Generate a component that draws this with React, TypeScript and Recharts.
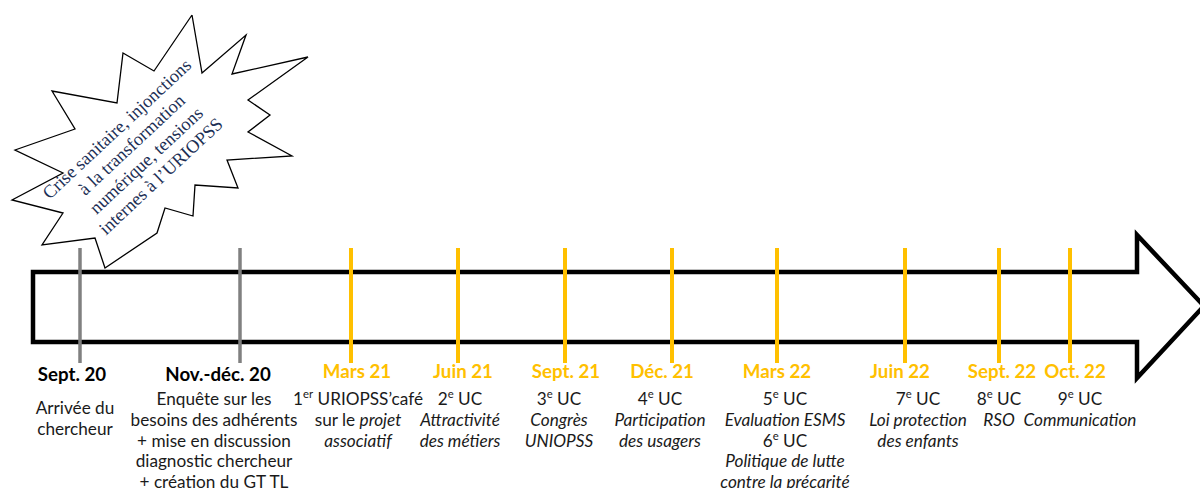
// Timeline of the research project at the URIOPSS, drawn with Recharts.
// One numeric x axis = position along the timeline arrow, one reversed y axis.
// The arrow and the "crisis" starburst are polylines, the events are axis ticks.

import { ComposedChart, Line, Scatter, XAxis, YAxis, ReferenceLine } from 'recharts'

// ── Events ────────────────────────────────────────────────────────────────────
const dates = [
  'Sept. 20', 'Nov.-déc. 20', 'Mars 21', 'Juin 21', 'Sept. 21',
  'Déc. 21', 'Mars 22', 'Juin 22', 'Sept. 22', 'Oct. 22',
]

// position of each event along the timeline
const timelinePos = [80, 240, 351, 458, 565, 672, 777, 905, 999, 1070]

// 'recherche' = researcher milestones (grey), 'uc' = URIOPSS'café sessions (orange)
const kind = [
  'recherche', 'recherche', 'uc', 'uc', 'uc',
  'uc', 'uc', 'uc', 'uc', 'uc',
]

// {..} = superscript, *..* = italic
const descriptions = [
  ['Arrivée du', 'chercheur'],
  ['Enquête sur les', 'besoins des adhérents', '+ mise en discussion', 'diagnostic chercheur', '+ création du GT TL'],
  ['1{er} URIOPSS’café', 'sur le *projet*', '*associatif*'],
  ['2{e} UC', '*Attractivité*', '*des métiers*'],
  ['3{e} UC', '*Congrès*', '*UNIOPSS*'],
  ['4{e} UC', '*Participation*', '*des usagers*'],
  ['5{e} UC', '*Evaluation ESMS*', '6{e} UC', '*Politique de lutte*', '*contre la précarité*'],
  ['7{e} UC', '*Loi protection*', '*des enfants*'],
  ['8{e} UC', '*RSO*'],
  ['9{e} UC', '*Communication*'],
]

const burstLines = ['Crise sanitaire, injonctions', 'à la transformation', 'numérique, tensions', 'internes à l’URIOPSS']

// ── Shapes (outline vertices) ─────────────────────────────────────────────────
const arrowOutline = [
  [33, 307], [33, 272], [1137, 272], [1137, 235], [1204, 306],
  [1137, 378], [1137, 342], [33, 342], [33, 307],
].map(([x, y]) => ({ x, y }))

const burstOutline = [
  [192, 15], [202, 73], [246, 35], [232, 74], [308, 57], [248, 100],
  [270, 115], [248, 132], [292, 156], [227, 160], [238, 188], [195, 185],
  [193, 216], [165, 208], [157, 233], [105, 268], [95, 238], [42, 245],
  [63, 213], [12, 200], [63, 173], [15, 150], [75, 129], [52, 91],
  [117, 103], [123, 53], [154, 71], [192, 15],
].map(([x, y]) => ({ x, y }))

const burstCentre = [{ x: 143, y: 157 }]

// ── Layout / style ────────────────────────────────────────────────────────────
const W = 1210
const H = 488
const AXIS_Y = H - 1          // x axis is 1px tall at the very bottom
const FONT = 'Lato, "Open Sans", sans-serif'
const ORANGE = '#FFC000'
const GREY = '#808080'
const TICK_TOP = 248
const TICK_BOTTOM = 363

// labels are not exactly centred on their tick in the original
const DATE_DX = [-8, -22, 6, 5, 1, -10, 0, -5, 3, 5]
const DESC_DX = [-5, -26, 7, 2, -6, -12, 8, 13, 0, 10]
const DATE_SIZE = 18.7
const DESC_SIZE = 17.2
const DESC_STEP = 20.8

// ── One line of rich text (italics + superscripts) ────────────────────────────
function RichLine({ x, y, line, size }: { x: number; y: number; line: string; size: number }) {
  const parts = line.split(/(\{[^}]*\}|\*[^*]*\*)/).filter(Boolean)
  const lift = size * 0.38
  let raised = false
  return (
    <text x={x} y={y} textAnchor="middle" fontFamily={FONT} fontSize={size} fill="#1a1a1a"
      style={{ whiteSpace: 'pre' }}>
      {parts.map((p, i) => {
        if (p.startsWith('{')) {
          raised = true
          return <tspan key={i} fontSize={size * 0.66} dy={-lift}>{p.slice(1, -1)}</tspan>
        }
        const dy = raised ? lift : undefined
        raised = false
        if (p.startsWith('*')) {
          return <tspan key={i} dy={dy} fontStyle="italic">{p.slice(1, -1)}</tspan>
        }
        return <tspan key={i} dy={dy}>{p}</tspan>
      })}
    </text>
  )
}

// ── Axis tick = date label + description block ────────────────────────────────
function EventTick(props: any) {
  const { x, y, payload } = props
  const i = timelinePos.indexOf(payload.value)
  if (i < 0) return null
  const uc = kind[i] === 'uc'
  // axis sits at the very bottom of the chart, so labels go upwards from it
  const dateY = y - AXIS_Y + 378 + (uc ? 0 : 3)
  const descY = y - AXIS_Y + 405 + (i === 0 ? 9 : 0)
  return (
    <g>
      <text x={x + DATE_DX[i]} y={dateY} textAnchor="middle" fontFamily={FONT}
        fontSize={DATE_SIZE} fontWeight={700} fill={uc ? ORANGE : '#000'}>
        {dates[i]}
      </text>
      {descriptions[i].map((line, k) => (
        <RichLine key={k} x={x + DESC_DX[i]} y={descY + k * DESC_STEP} line={line} size={DESC_SIZE} />
      ))}
    </g>
  )
}

// ── Starburst caption ─────────────────────────────────────────────────────────
function BurstText(props: any) {
  const { cx, cy } = props
  const step = 21.5
  return (
    <g transform={`rotate(-43 ${cx} ${cy})`}>
      <text x={cx} y={cy} textAnchor="middle" fontFamily='"Liberation Serif", "Times New Roman", serif'
        fontSize={18.3} fill="#1c2f55">
        {burstLines.map((l, k) => (
          <tspan key={k} x={cx} y={cy + (k - 1.5) * step}>{l}</tspan>
        ))}
      </text>
    </g>
  )
}

// ─────────────────────────────────────────────────────────────────────────────
export default function App() {
  return (
    <div style={{ position: 'absolute', left: 0, top: 0, width: 1200, height: H, overflow: 'hidden', background: '#fff' }}>
      <ComposedChart width={W} height={H} margin={{ top: 0, right: 0, bottom: 0, left: 0 }}>
        <XAxis
          dataKey="x"
          type="number"
          domain={[0, W]}
          ticks={timelinePos}
          interval={0}
          height={1}
          tickSize={0}
          tickMargin={0}
          axisLine={false}
          tickLine={false}
          tick={<EventTick />}
        />
        <YAxis type="number" domain={[0, AXIS_Y]} reversed hide />

        {/* big arrow */}
        <Line data={arrowOutline} dataKey="y" type="linear" stroke="#000" strokeWidth={4.5}
          strokeLinejoin="miter" dot={false} activeDot={false} isAnimationActive={false} />

        {/* crisis starburst */}
        <Line data={burstOutline} dataKey="y" type="linear" stroke="#000" strokeWidth={1.3}
          strokeLinejoin="miter" dot={false} activeDot={false} isAnimationActive={false} />
        <Scatter data={burstCentre} dataKey="y" shape={<BurstText />} isAnimationActive={false} />

        {/* event markers crossing the arrow */}
        {timelinePos.map((p, i) => (
          <ReferenceLine
            key={p}
            segment={[{ x: p, y: TICK_TOP }, { x: p, y: TICK_BOTTOM }]}
            stroke={kind[i] === 'uc' ? ORANGE : GREY}
            strokeWidth={kind[i] === 'uc' ? 4 : 3.5}
          />
        ))}
      </ComposedChart>
    </div>
  )
}
